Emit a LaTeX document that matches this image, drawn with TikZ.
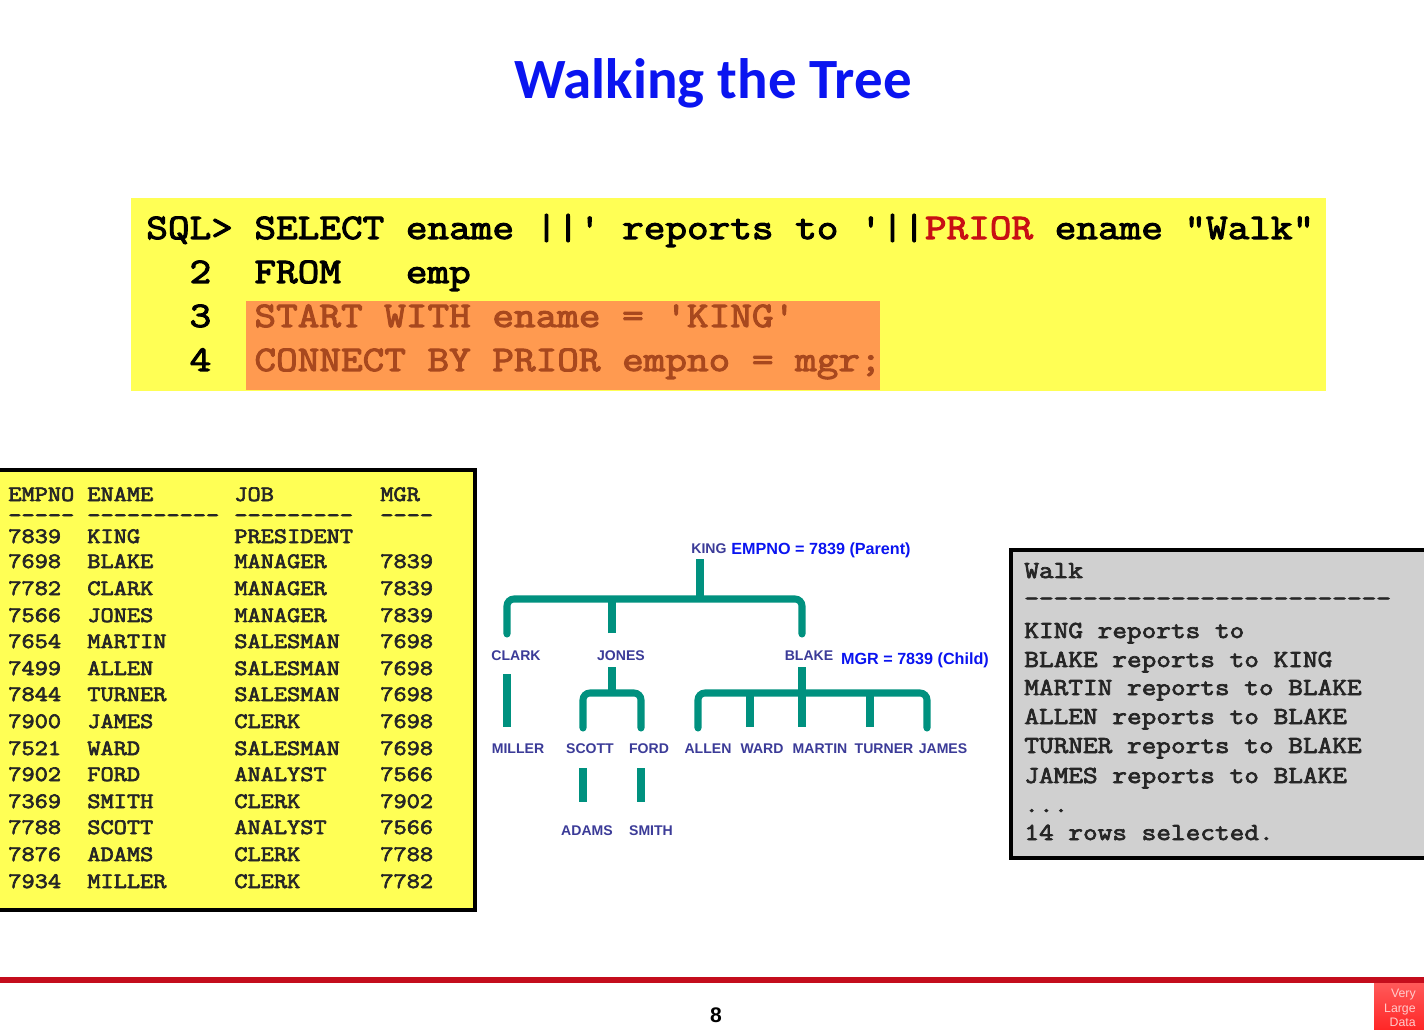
\documentclass[tikz,border=0pt]{standalone}
\usepackage{fontspec}
\setmainfont{Liberation Sans}
\newfontfamily\titlefont{Carlito}
\newfontfamily\monofont{Latin Modern Mono}[FakeStretch=1.166,FakeBold=3]
\usetikzlibrary{positioning}
\definecolor{slideblue}{HTML}{0A14F0}
\definecolor{boxyellow}{HTML}{FFFF55}
\definecolor{boxorange}{HTML}{FF9A50}
\definecolor{sqlbrown}{HTML}{A8481E}
\definecolor{sqlred}{HTML}{C80F14}
\definecolor{treeteal}{HTML}{00917F}
\definecolor{treename}{HTML}{3B3B98}
\definecolor{walkgrey}{HTML}{D0D0D0}
\definecolor{footerred}{HTML}{C40D1C}
\tikzset{
  sqlline/.style={anchor=base west,inner sep=0pt,font=\monofont\fontsize{20.5pt}{24pt}\selectfont},
  tabletext/.style={anchor=base west,inner sep=0pt,text=black!85,font=\monofont\fontsize{12.5pt}{15pt}\selectfont},
  walktext/.style={anchor=base west,inner sep=0pt,text=black!85,font=\monofont\fontsize{13.9pt}{16pt}\selectfont},
  empname/.style={inner sep=0pt,text=treename,font=\bfseries\fontsize{8pt}{10pt}\selectfont},
  keynote/.style={inner sep=0pt,text=slideblue,font=\bfseries\fontsize{9.2pt}{11pt}\selectfont},
  branch/.style={draw=treeteal,line width=4pt,rounded corners=4pt},
  outerbranch/.style={branch,line cap=round}
}
\begin{document}
\begin{tikzpicture}[x=0.02cm,y=-0.02cm]
  \useasboundingbox (0,0) rectangle (1424,1030);
  \clip (0,0) rectangle (1424,1030);
  \fill[white] (0,0) rectangle (1424,1030);
  \node[inner sep=0pt,text=slideblue,font=\titlefont\bfseries\fontsize{32.4pt}{38pt}\selectfont] (title) at (713,83) {Walking the Tree};
  % sql box
  \fill[boxyellow] (131,198) rectangle (1326,391);
  \fill[boxorange] (246,301) rectangle (880,390);
  \node[sqlline] (sqlone) at (146,239) {SQL> SELECT ename ||' reports to '||\textcolor{sqlred}{PRIOR} ename "Walk"};
  \node[sqlline] (sqltwo) at (146,283) {\ \ 2\ \ FROM\ \ \ emp};
  \node[sqlline] (sqlthree) at (146,327) {\ \ 3\ \ \textcolor{sqlbrown}{START WITH ename = 'KING'}};
  \node[sqlline] (sqlfour) at (146,371) {\ \ 4\ \ \textcolor{sqlbrown}{CONNECT BY PRIOR empno = mgr;}};
  % emp table
  \draw[fill=boxyellow,line width=1.8pt] (-10,470) rectangle (475,910);
  \node[tabletext] (headno) at (8,501) {EMPNO};
  \node[tabletext] (headname) at (87,501) {ENAME};
  \node[tabletext] (headjob) at (234,501) {JOB};
  \node[tabletext] (headmgr) at (380,501) {MGR};
  \node[tabletext] (ruleno) at (8,522) {-----};
  \node[tabletext] (rulename) at (87,522) {----------};
  \node[tabletext] (rulejob) at (234,522) {---------};
  \node[tabletext] (rulemgr) at (380,522) {----};
  \node[tabletext] (kingno) at (8,543) {7839};
  \node[tabletext] (kingname) at (87,543) {KING};
  \node[tabletext] (kingjob) at (234,543) {PRESIDENT};
  \foreach \y/\no/\nm/\jb/\mg in {
    568/7698/BLAKE/MANAGER/7839,
    595/7782/CLARK/MANAGER/7839,
    622/7566/JONES/MANAGER/7839,
    648/7654/MARTIN/SALESMAN/7698,
    675/7499/ALLEN/SALESMAN/7698,
    701/7844/TURNER/SALESMAN/7698,
    728/7900/JAMES/CLERK/7698,
    755/7521/WARD/SALESMAN/7698,
    781/7902/FORD/ANALYST/7566,
    808/7369/SMITH/CLERK/7902,
    834/7788/SCOTT/ANALYST/7566,
    861/7876/ADAMS/CLERK/7788,
    888/7934/MILLER/CLERK/7782} {
    \node[tabletext] (no\no) at (8,\y) {\no};
    \node[tabletext] (name\no) at (87,\y) {\nm};
    \node[tabletext] (job\no) at (234,\y) {\jb};
    \node[tabletext] (mgr\no) at (380,\y) {\mg};
  }
  % tree labels
  \node[empname] (king) at (709,549) {KING};
  \node[keynote] (parentnote) at (821,550) {EMPNO = 7839 (Parent)};
  \node[empname] (clark) at (516,656) {CLARK};
  \node[empname] (jones) at (621,656) {JONES};
  \node[empname] (blake) at (809,656) {BLAKE};
  \node[keynote] (childnote) at (915,660) {MGR = 7839 (Child)};
  \node[empname] (miller) at (518,749) {MILLER};
  \node[empname] (scott) at (590,749) {SCOTT};
  \node[empname] (ford) at (649,749) {FORD};
  \node[empname] (allen) at (708,749) {ALLEN};
  \node[empname] (ward) at (762,749) {WARD};
  \node[empname] (martin) at (820,749) {MARTIN};
  \node[empname] (turner) at (884,749) {TURNER};
  \node[empname] (james) at (943,749) {JAMES};
  \node[empname] (adams) at (587,831) {ADAMS};
  \node[empname] (smith) at (651,831) {SMITH};
  % tree branches
  \coordinate (kingstem) at (700,559);
  \coordinate (kingbar) at (700,599);
  \coordinate (clarkleg) at (507,634);
  \coordinate (jonesleg) at (612,633);
  \coordinate (blakeleg) at (802,634);
  \coordinate (clarkstem) at (507,674);
  \coordinate (millerleg) at (507,727);
  \coordinate (jonesstem) at (612,667);
  \coordinate (jonesbar) at (612,693);
  \coordinate (scottleg) at (583,728);
  \coordinate (fordleg) at (641,728);
  \coordinate (scottstem) at (583,768);
  \coordinate (adamsleg) at (583,802);
  \coordinate (fordstem) at (641,768);
  \coordinate (smithleg) at (641,802);
  \coordinate (blakestem) at (802,667);
  \coordinate (martinleg) at (802,727);
  \coordinate (allenleg) at (698,728);
  \coordinate (wardleg) at (750,727);
  \coordinate (turnerleg) at (870,727);
  \coordinate (jamesleg) at (927,728);
  \draw[branch] (kingstem) -- (kingbar);
  \draw[branch] (jonesleg) -- (jonesleg |- kingbar);
  \draw[outerbranch] (clarkleg) -- (clarkleg |- kingbar) -- (blakeleg |- kingbar) -- (blakeleg);
  \draw[branch] (clarkstem) -- (millerleg);
  \draw[branch] (jonesstem) -- (jonesbar);
  \draw[outerbranch] (scottleg) -- (scottleg |- jonesbar) -- (fordleg |- jonesbar) -- (fordleg);
  \draw[branch] (scottstem) -- (adamsleg);
  \draw[branch] (fordstem) -- (smithleg);
  \draw[branch] (blakestem) -- (martinleg);
  \draw[branch] (wardleg) -- (wardleg |- jonesbar);
  \draw[branch] (turnerleg) -- (turnerleg |- jonesbar);
  \draw[outerbranch] (allenleg) -- (allenleg |- jonesbar) -- (jamesleg |- jonesbar) -- (jamesleg);
  % walk box
  \draw[fill=walkgrey,line width=1.8pt] (1011,550) rectangle (1440,858);
  \node[walktext] (walkhead) at (1024,578) {Walk};
  \node[walktext] (walkrule) at (1024,606) {-------------------------};
  \node[walktext] (walkone) at (1024,638) {KING reports to};
  \node[walktext] (walktwo) at (1024,667) {BLAKE reports to KING};
  \node[walktext] (walkthree) at (1024,695) {MARTIN reports to BLAKE};
  \node[walktext] (walkfour) at (1024,724) {ALLEN reports to BLAKE};
  \node[walktext] (walkfive) at (1024,753) {TURNER reports to BLAKE};
  \node[walktext] (walksix) at (1024,783) {JAMES reports to BLAKE};
  \node[walktext] (walkdots) at (1024,812) {...};
  \node[walktext] (walkrows) at (1024,840) {14 rows selected.};
  % footer
  \fill[footerred] (0,977) rectangle (1424,983);
  \shade[top color=red!65!white,bottom color=red!85!white] (1374,983) rectangle (1424,1030);
  \node[inner sep=0pt,font=\bfseries\fontsize{12pt}{14pt}\selectfont] (pageno) at (716,1015) {8};
  \node[inner sep=0pt,align=right,anchor=east,text=white!80!red,font=\fontsize{7pt}{8.4pt}\selectfont] (logo) at (1416,1008) {Very\\Large\\Data};
\end{tikzpicture}
\end{document}
